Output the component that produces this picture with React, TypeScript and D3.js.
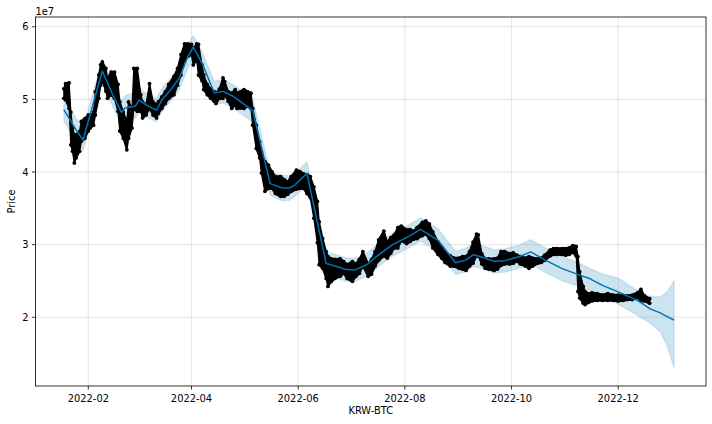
import React from 'react';
import * as d3 from 'd3';

// Observed KRW-BTC prices (daily high/low envelope of the hourly points), in KRW
const histDates = [
  '2022-01-18','2022-01-19','2022-01-21','2022-01-22','2022-01-23','2022-01-24','2022-01-25','2022-01-27','2022-01-28','2022-01-30',
  '2022-02-01','2022-02-02','2022-02-04','2022-02-05','2022-02-07','2022-02-08','2022-02-09','2022-02-11','2022-02-12','2022-02-14',
  '2022-02-16','2022-02-18','2022-02-19','2022-02-21','2022-02-23','2022-02-24','2022-02-26','2022-02-27','2022-03-01','2022-03-03',
  '2022-03-04','2022-03-06','2022-03-08','2022-03-10','2022-03-12','2022-03-13','2022-03-15','2022-03-17','2022-03-19','2022-03-22',
  '2022-03-24','2022-03-26','2022-03-28','2022-03-30','2022-04-01','2022-04-02','2022-04-04','2022-04-05','2022-04-07','2022-04-08',
  '2022-04-10','2022-04-12','2022-04-14','2022-04-15','2022-04-17','2022-04-19','2022-04-20','2022-04-22','2022-04-24','2022-04-26',
  '2022-04-27','2022-05-01','2022-05-03','2022-05-05','2022-05-06','2022-05-08','2022-05-10','2022-05-11','2022-05-13','2022-05-15',
  '2022-05-17','2022-05-19','2022-05-22','2022-05-24','2022-05-26','2022-05-28','2022-05-31','2022-06-02','2022-06-04','2022-06-06',
  '2022-06-08','2022-06-10','2022-06-12','2022-06-13','2022-06-15','2022-06-17','2022-06-18','2022-06-20','2022-06-22','2022-06-25',
  '2022-06-27','2022-06-29','2022-07-02','2022-07-04','2022-07-06','2022-07-08','2022-07-11','2022-07-13','2022-07-15','2022-07-17',
  '2022-07-20','2022-07-22','2022-07-24','2022-07-26','2022-07-28','2022-07-30','2022-08-02','2022-08-04','2022-08-06','2022-08-08',
  '2022-08-11','2022-08-13','2022-08-15','2022-08-17','2022-08-20','2022-08-22','2022-08-24','2022-08-27','2022-08-29','2022-09-01',
  '2022-09-03','2022-09-05','2022-09-07','2022-09-09','2022-09-11','2022-09-12','2022-09-14','2022-09-16','2022-09-18','2022-09-21',
  '2022-09-23','2022-09-25','2022-09-27','2022-09-30','2022-10-02','2022-10-04','2022-10-06','2022-10-09','2022-10-11','2022-10-13',
  '2022-10-16','2022-10-18','2022-10-20','2022-10-23','2022-10-25','2022-10-27','2022-10-30','2022-11-01','2022-11-03','2022-11-05',
  '2022-11-07','2022-11-08','2022-11-09','2022-11-11','2022-11-12','2022-11-14','2022-11-16','2022-11-19','2022-11-22','2022-11-25',
  '2022-11-28','2022-12-01','2022-12-04','2022-12-06','2022-12-09','2022-12-12','2022-12-14','2022-12-16','2022-12-19'
];
const histHigh = [
  5.17,5.24,5.25,4.85,4.62,4.54,4.54,4.58,4.72,4.76,
  4.81,4.78,4.85,5.13,5.36,5.50,5.54,5.45,5.31,5.40,
  5.40,5.23,4.99,4.85,4.72,4.99,4.90,5.45,5.45,5.09,
  4.99,4.95,5.24,4.99,4.95,4.99,5.06,5.13,5.23,5.34,
  5.45,5.64,5.79,5.79,5.78,5.72,5.79,5.78,5.50,5.36,
  5.23,5.17,5.13,5.11,5.17,5.32,5.27,5.13,5.11,5.16,
  5.11,5.16,5.13,5.11,4.90,4.67,4.44,4.30,4.17,4.12,
  4.03,3.96,3.96,3.92,3.89,3.96,4.05,4.03,4.00,3.99,
  3.96,3.82,3.62,3.34,3.11,2.93,2.86,2.83,2.82,2.83,
  2.79,2.75,2.79,2.76,2.82,2.93,2.76,2.82,2.93,3.09,
  3.21,3.06,3.12,3.16,3.26,3.28,3.23,3.23,3.21,3.26,
  3.33,3.35,3.31,3.20,3.06,2.98,2.93,2.87,2.84,2.84,
  2.86,2.86,2.93,3.06,3.17,3.16,2.90,2.83,2.83,2.83,
  2.84,2.93,2.93,2.90,2.91,2.88,2.86,2.84,2.86,2.84,
  2.83,2.84,2.88,2.95,2.97,2.97,2.97,2.97,2.98,3.01,
  3.00,2.86,2.65,2.45,2.38,2.35,2.36,2.35,2.33,2.35,
  2.33,2.33,2.32,2.32,2.33,2.36,2.41,2.32,2.28
];
const histLow = [
  4.99,4.97,4.85,4.35,4.26,4.10,4.17,4.26,4.40,4.44,
  4.54,4.58,4.62,4.76,4.99,5.17,5.23,5.09,4.99,5.04,
  4.99,4.81,4.54,4.44,4.28,4.44,4.58,4.85,4.81,4.81,
  4.72,4.76,4.85,4.76,4.72,4.78,4.85,4.92,4.99,5.04,
  5.17,5.31,5.52,5.57,5.59,5.45,5.52,5.31,5.23,5.11,
  5.04,4.99,4.95,4.92,4.99,4.99,5.04,4.95,4.85,4.90,
  4.85,4.85,4.88,4.85,4.62,4.30,4.17,3.96,3.71,3.75,
  3.75,3.68,3.64,3.64,3.67,3.71,3.74,3.75,3.75,3.68,
  3.62,3.34,3.00,2.70,2.65,2.51,2.40,2.47,2.51,2.54,
  2.58,2.51,2.47,2.54,2.58,2.68,2.54,2.57,2.68,2.76,
  2.82,2.79,2.86,2.93,2.93,3.03,2.99,3.02,3.05,3.06,
  3.10,3.12,3.06,2.93,2.84,2.79,2.73,2.68,2.68,2.65,
  2.64,2.62,2.68,2.72,2.82,2.82,2.71,2.65,2.64,2.62,
  2.64,2.69,2.71,2.71,2.72,2.75,2.71,2.68,2.65,2.68,
  2.72,2.73,2.76,2.82,2.84,2.84,2.84,2.83,2.84,2.87,
  2.82,2.33,2.24,2.17,2.15,2.18,2.20,2.21,2.21,2.21,
  2.21,2.20,2.21,2.22,2.22,2.25,2.20,2.20,2.17
];

// Prophet forecast (yhat) with its uncertainty interval
const fcDates = [
  '2022-01-18','2022-01-20','2022-01-23','2022-01-25','2022-01-29','2022-02-09','2022-02-15','2022-02-20','2022-02-22','2022-02-28',
  '2022-03-02','2022-03-07','2022-03-12','2022-03-15','2022-03-20','2022-03-25','2022-03-30','2022-04-02','2022-04-07','2022-04-14',
  '2022-04-19','2022-04-25','2022-05-04','2022-05-06','2022-05-16','2022-05-23','2022-05-27','2022-05-30','2022-06-06','2022-06-17',
  '2022-06-23','2022-06-28','2022-07-03','2022-07-10','2022-07-17','2022-07-25','2022-08-03','2022-08-10','2022-08-20','2022-08-30',
  '2022-09-05','2022-09-09','2022-09-14','2022-09-21','2022-09-27','2022-09-30','2022-10-05','2022-10-12','2022-10-20','2022-10-30',
  '2022-11-09','2022-11-15','2022-11-22','2022-12-01','2022-12-13','2022-12-19','2022-12-25','2022-12-29','2023-01-02'
];
const fcYhat = [
  4.86,4.78,4.66,4.58,4.44,5.39,5.06,4.82,4.88,4.91,
  4.99,4.91,4.85,4.99,5.13,5.29,5.59,5.72,5.50,5.09,
  5.11,5.04,4.88,4.85,3.84,3.78,3.78,3.82,3.98,2.74,
  2.70,2.66,2.65,2.72,2.86,3.00,3.11,3.21,3.06,2.75,
  2.79,2.86,2.83,2.77,2.78,2.80,2.83,2.90,2.79,2.67,
  2.58,2.53,2.44,2.35,2.22,2.12,2.06,2.01,1.96
];
const fcLower = [
  4.70,4.62,4.50,4.42,4.29,5.23,4.90,4.66,4.71,4.74,
  4.83,4.75,4.69,4.83,4.97,5.13,5.43,5.57,5.34,4.93,
  4.95,4.88,4.72,4.69,3.68,3.60,3.61,3.66,3.82,2.58,
  2.54,2.50,2.49,2.56,2.70,2.84,2.95,3.05,2.90,2.59,
  2.63,2.70,2.67,2.61,2.62,2.64,2.67,2.73,2.62,2.50,
  2.42,2.37,2.28,2.18,2.01,1.92,1.80,1.60,1.30
];
const fcUpper = [
  5.02,4.94,4.82,4.74,4.60,5.55,5.22,4.98,5.05,5.10,
  5.15,5.07,5.01,5.15,5.29,5.45,5.75,5.88,5.66,5.25,
  5.27,5.20,5.04,5.01,4.00,3.96,3.95,3.98,4.14,2.90,
  2.86,2.82,2.81,2.88,3.02,3.16,3.27,3.37,3.22,2.91,
  2.95,3.02,2.99,2.93,2.94,2.96,2.99,3.07,2.96,2.84,
  2.74,2.67,2.60,2.54,2.35,2.29,2.28,2.35,2.51
];

const xTickDates = ['2022-02-01','2022-04-01','2022-06-01','2022-08-01','2022-10-01','2022-12-01'];
const yTickValues = [2, 3, 4, 5, 6];
const OFFSET = 1e7;

const W = 712, H = 424;
const L = 35.5, R = 706, T = 17, B = 386;
const FONT = '"DejaVu Sans", Verdana, sans-serif';
const FS = 9.9;

export default function App() {
  const parse = d3.utcParse('%Y-%m-%d');
  const fmt = d3.utcFormat('%Y-%m');
  const x = d3.scaleUtc()
    .domain([new Date(Date.UTC(2022, 0, 1, 19)), new Date(Date.UTC(2023, 0, 20, 5))])
    .range([L, R]);
  const y = d3.scaleLinear().domain([1.054 * OFFSET, 6.134 * OFFSET]).range([B, T]);

  const hist = histDates.map((d, i) => ({ date: parse(d)!, hi: histHigh[i] * OFFSET, lo: histLow[i] * OFFSET }));
  const fc = fcDates.map((d, i) => ({ date: parse(d)!, yhat: fcYhat[i] * OFFSET, lo: fcLower[i] * OFFSET, hi: fcUpper[i] * OFFSET }));

  const histArea = d3.area<any>().x(d => x(d.date)).y0(d => y(d.lo) - 1).y1(d => y(d.hi) + 1)(hist) || '';
  const bandArea = d3.area<any>().x(d => x(d.date)).y0(d => y(d.lo)).y1(d => y(d.hi))(fc) || '';
  const line = d3.line<any>().x(d => x(d.date)).y(d => y(d.yhat))(fc) || '';
  const xt = xTickDates.map(s => parse(s)!);

  return (
    <svg width={W} height={H} style={{ position: 'absolute', left: 0, top: 0, background: '#fff' }}
      fontFamily={FONT} fontSize={FS}>
      <rect x={0} y={0} width={W} height={H} fill="#fff" />
      {/* uncertainty band */}
      <path d={bandArea} fill="#0072B2" fillOpacity={0.2} stroke="#0072B2" strokeOpacity={0.12} strokeWidth={1.4} />
      {/* grid */}
      <g stroke="#808080" strokeOpacity={0.2} strokeWidth={1}>
        {xt.map((d, i) => <line key={'gx' + i} x1={x(d)} x2={x(d)} y1={T} y2={B} />)}
        {yTickValues.map((v, i) => <line key={'gy' + i} x1={L} x2={R} y1={y(v * OFFSET)} y2={y(v * OFFSET)} />)}
      </g>
      {/* observations */}
      <g fill="#000">
        <path d={histArea} stroke="#000" strokeWidth={1.2} strokeLinejoin="round" />
        {hist.map((d, i) => (
          <g key={'h' + i}>
            <circle cx={x(d.date)} cy={y(d.hi) + 1.8} r={1.9} />
            <circle cx={x(d.date)} cy={y(d.lo) - 1.8} r={1.9} />
          </g>
        ))}
      </g>
      {/* forecast */}
      <path d={line} fill="none" stroke="#0072B2" strokeWidth={1.5} strokeLinejoin="round" />
      {/* spines */}
      <rect x={L} y={T} width={R - L} height={B - T} fill="none" stroke="#000" strokeWidth={0.8} />
      {/* x ticks */}
      {xt.map((d, i) => (
        <g key={'xt' + i}>
          <line x1={x(d)} x2={x(d)} y1={B} y2={B + 3.5} stroke="#000" strokeWidth={0.8} />
          <text x={x(d)} y={401.5} textAnchor="middle" fill="#000">{fmt(d)}</text>
        </g>
      ))}
      {/* y ticks */}
      {yTickValues.map((v, i) => (
        <g key={'yt' + i}>
          <line x1={L - 3.5} x2={L} y1={y(v * OFFSET)} y2={y(v * OFFSET)} stroke="#000" strokeWidth={0.8} />
          <text x={28.5} y={y(v * OFFSET) + 3.6} textAnchor="end" fill="#000">{String(v)}</text>
        </g>
      ))}
      <text x={L} y={14.5} fill="#000">1e7</text>
      <text transform={`translate(15,${(T + B) / 2}) rotate(-90)`} textAnchor="middle" fill="#000">Price</text>
      <text x={(L + R) / 2} y={414} textAnchor="middle" fill="#000">KRW-BTC</text>
    </svg>
  );
}
